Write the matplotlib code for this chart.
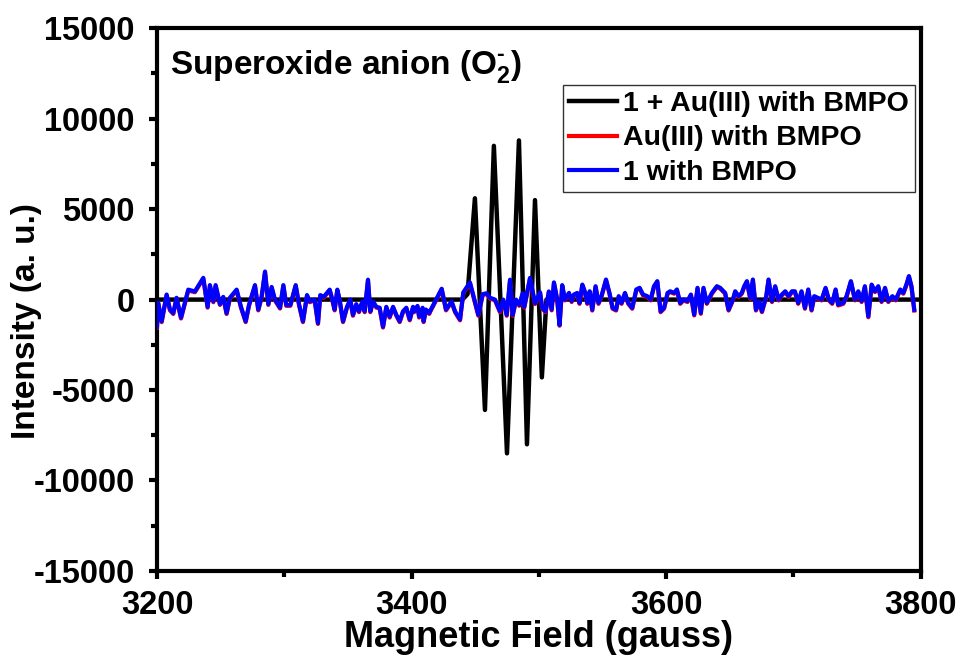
import matplotlib.pyplot as plt
import matplotlib.transforms as mtransforms
from matplotlib.ticker import MultipleLocator

plt.rcParams['font.family'] = ['Liberation Sans', 'DejaVu Sans']
plt.rcParams['font.weight'] = 'bold'
plt.rcParams['axes.unicode_minus'] = False
plt.rcParams['mathtext.fontset'] = 'custom'
plt.rcParams['mathtext.rm'] = 'Liberation Sans:bold'
plt.rcParams['mathtext.bf'] = 'Liberation Sans:bold'
plt.rcParams['mathtext.default'] = 'bf'

# black trace: 1 + Au(III) with BMPO (flat baseline + 8 sharp lines)
field_black = [3200, 3440, 3444, 3449.8, 3457.7, 3464.7, 3475.0, 3484.4,
               3490.7, 3497.0, 3502.4, 3506, 3800]
int_black = [0, 0, 300, 5600, -6100, 8500, -8500, 8800,
             -8000, 5500, -4300, 0, 0]

# blue trace: 1 with BMPO (noise)
field_blue = [
    3200, 3201, 3203.7, 3207.6, 3210.2, 3212.8, 3215.4, 3218.9, 3224.6, 3229.8,
    3236.4, 3239.8, 3241.6, 3244.3, 3246.1, 3249.5, 3252.1, 3254.7, 3257.3, 3262.6,
    3266, 3269.7, 3272.3, 3277, 3279.6, 3282.2, 3284.9, 3287.5, 3290.1, 3292.7,
    3296.7, 3299.3, 3301.6, 3304.8, 3309, 3311.6, 3314.7, 3317.9, 3320, 3323.9,
    3326.5, 3328.3, 3331, 3335.7, 3337.8, 3339.6, 3341.7, 3343.5, 3346.2, 3349.3,
    3351.9, 3354, 3356.6, 3358.7, 3361.4, 3363.2, 3365.8, 3367.6, 3369.7, 3372.4,
    3375, 3377.6, 3380.2, 3382.8, 3385.5, 3388.1, 3390.7, 3393.3, 3395.9, 3398.6,
    3401.2, 3402.1, 3404.7, 3406, 3408.7, 3409.5, 3411.3, 3413.9, 3414.5, 3423.7,
    3427.1, 3431.5, 3434.2, 3438.1, 3440.7, 3445.9, 3452.5, 3455.9, 3459, 3461.7,
    3465.6, 3469.5, 3472.1, 3474.8, 3477.4, 3479.5, 3482.1, 3484.7, 3487.3, 3488.6,
    3493.1, 3497, 3501, 3502.7, 3505.3, 3507.9, 3510.1, 3511.9, 3514.5, 3516.3,
    3518.4, 3520.5, 3523.7, 3525.8, 3527.6, 3530.2, 3532, 3534.2, 3536.1, 3538.1,
    3540, 3542, 3544.6, 3546.9, 3549.2, 3552.8, 3555.5, 3558, 3560.7, 3562.8,
    3565, 3567.7, 3570.3, 3573.4, 3576.6, 3579.2, 3581.9, 3585.2, 3587.9, 3590.5,
    3593.1, 3595.7, 3598.4, 3601.2, 3603.2, 3606.4, 3608.5, 3611.1, 3613.7, 3616.8,
    3619.5, 3622.1, 3624.7, 3627.3, 3629.4, 3632, 3636, 3639.9, 3642.5, 3646.4,
    3649.1, 3652.5, 3654.3, 3657, 3659.5, 3661.4, 3663.5, 3666.1, 3668.2, 3670.6,
    3673.2, 3675.3, 3678.7, 3680.5, 3683.2, 3685.7, 3688.4, 3691, 3693.6, 3696.3,
    3698.9, 3701.2, 3703.8, 3706.4, 3709.1, 3711.7, 3714.3, 3716.4, 3719.5, 3722.2,
    3725.3, 3727.9, 3730.5, 3733.2, 3735.2, 3739.2, 3741.8, 3745.2, 3748.4, 3751,
    3753.6, 3756.2, 3758.9, 3761.5, 3764.1, 3766.7, 3769.3, 3772, 3774.6, 3777.8,
    3780.4, 3784, 3786.4, 3788.8, 3790.8, 3792.8, 3795]
int_blue = [
    -1500, -170, -1200, 280, -550, -750, 100, -1000, 550, 450,
    1200, -400, 800, -100, 800, -250, 150, -750, 100, 550,
    -400, -1200, -300, 800, -550, 150, 1550, -250, 700, 0,
    -450, 800, -300, -300, 800, -250, -1200, 250, -100, 0,
    -1300, 250, 150, 550, 0, -550, 550, 0, -1200, -400,
    0, -850, -250, -650, -100, -650, 1100, -650, -100, -400,
    -450, -1500, -400, -950, -400, -850, -1200, -650, -450, -1100,
    -400, -650, -350, -950, -450, -1200, -550, -750, -650, 600,
    -550, -100, -650, -1100, 400, 950, -850, 300, 350, 100,
    0, -650, 0, -850, 1100, -850, 0, -300, 350, -400,
    1200, -200, 400, -460, -650, 450, -550, 950, 0, -1400,
    800, 0, 370, -90, 280, 370, -190, 830, 460, -190,
    460, -560, 740, -190, 190, 1110, 370, -460, -560, 190,
    -190, 370, -190, -460, 560, 650, 280, 190, 0, 740,
    1020, -650, -460, 370, 460, 370, 560, -190, 0, -90,
    280, -830, 650, -740, 650, -190, 370, 740, 650, 370,
    -560, 0, 460, 190, 370, 740, 1020, 90, 1110, -560,
    -90, -650, 190, 1110, -90, 740, 0, 280, 460, 190,
    460, 460, -190, 460, -460, 560, -560, 190, 90, 0,
    650, 0, -190, 560, -280, -190, 190, 1020, 0, 460,
    -90, 740, -930, 830, 460, 740, -90, 650, -90, 190,
    0, 560, 370, 830, 1300, 740, -560]

# red trace: Au(III) with BMPO, runs under the blue one
field_red = list(field_blue)
int_red = list(int_blue)

fig = plt.figure(figsize=(9.6, 6.57), dpi=100)
ax = fig.add_axes([0.1635, 0.131, 0.7955, 0.826])

ax.plot(field_black, int_black, color='black', lw=3.2, label='1 + Au(III) with BMPO',
        solid_joinstyle='round', zorder=3)
red_shift = mtransforms.offset_copy(ax.transData, fig=fig, x=0, y=-0.6, units='points')
ax.plot(field_red, int_red, color='red', lw=3, label='Au(III) with BMPO',
        transform=red_shift, zorder=4)
ax.plot(field_blue, int_blue, color='blue', lw=3, label='1 with BMPO', zorder=5)

ax.set_xlim(3200, 3800)
ax.set_ylim(-15000, 15000)
ax.xaxis.set_major_locator(MultipleLocator(200))
ax.xaxis.set_minor_locator(MultipleLocator(100))
ax.yaxis.set_major_locator(MultipleLocator(5000))
ax.yaxis.set_minor_locator(MultipleLocator(2500))
ax.tick_params(which='major', direction='out', length=6, width=3, labelsize=23.5, pad=10)
ax.tick_params(axis='x', which='major', pad=8)
ax.tick_params(which='minor', direction='out', length=4, width=3)
for lab in ax.get_xticklabels() + ax.get_yticklabels():
    lab.set_fontweight('bold')
for sp in ax.spines.values():
    sp.set_linewidth(3)

ax.set_xlabel('Magnetic Field (gauss)', fontsize=26, fontweight='bold', labelpad=-1)
ax.set_ylabel('Intensity (a. u.)', fontsize=24, fontweight='bold')
ax.yaxis.set_label_coords(-0.151, 0.46)

ax.text(0.017, 0.963, r'Superoxide anion (O$_2^{\text{-}}$)', transform=ax.transAxes,
        fontsize=24, fontweight='bold', va='top', ha='left')

leg = ax.legend(loc='upper right', bbox_to_anchor=(0.992, 0.895), fontsize=20.5,
                frameon=True, fancybox=False, edgecolor='black', handlelength=1.7,
                handletextpad=0.2, borderpad=0.2, labelspacing=0.3, borderaxespad=0)
leg.get_frame().set_linewidth(1)
for t in leg.get_texts():
    t.set_fontweight('bold')

fig.savefig('out.png', dpi=100)
